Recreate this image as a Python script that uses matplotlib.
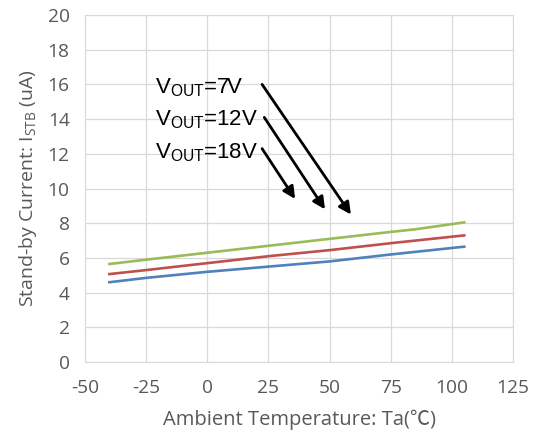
import numpy as np
import matplotlib.pyplot as plt

plt.rcParams['mathtext.fontset'] = 'custom'
plt.rcParams['mathtext.rm'] = 'Liberation Sans'
plt.rcParams['axes.unicode_minus'] = False

# data
temp = [-40, -25, 0, 25, 50, 75, 85, 105]
i_7v = [4.6, 4.85, 5.2, 5.5, 5.8, 6.2, 6.35, 6.65]
i_12v = [5.07, 5.3, 5.7, 6.1, 6.45, 6.85, 7.0, 7.3]
i_18v = [5.65, 5.9, 6.3, 6.7, 7.1, 7.5, 7.65, 8.05]

labels = ['7V', '12V', '18V']
# arrow start / end in data coords
arrows = [((22.4, 16.0), (58.7, 8.5)),
          ((23.3, 14.1), (48.1, 8.8)),
          ((22.4, 12.3), (35.9, 9.4))]
label_y = [15.8, 13.95, 12.05]

fig = plt.figure(figsize=(5.34, 4.41), dpi=100)
ax = fig.add_axes([0.159, 0.179, 0.802, 0.787])

ax.plot(temp, i_7v, color='#4F81BD', lw=1.9)
ax.plot(temp, i_12v, color='#C0504D', lw=1.9)
ax.plot(temp, i_18v, color='#9BBB59', lw=1.9)

ax.set_xlim(-50, 125)
ax.set_ylim(0, 20)
ax.set_xticks(np.arange(-50, 126, 25))
ax.set_yticks(np.arange(0, 21, 2))
ax.grid(True, color='#d9d9d9', lw=0.9)
ax.set_axisbelow(True)
for s in ax.spines.values():
    s.set_color('#d9d9d9')
ax.tick_params(length=0, labelsize=13.8, colors='#595959')
ax.tick_params(axis='x', pad=12)
ax.tick_params(axis='y', pad=11)
for t in ax.get_xticklabels() + ax.get_yticklabels():
    t.set_family('Open Sans')

ax.set_xlabel('Ambient Temperature: Ta(\u2103)', fontsize=14.5, color='#595959',
              family=['Open Sans', 'Noto Sans CJK JP'], labelpad=9)
ax.set_ylabel(r'Stand-by Current: I$_{\mathregular{STB}}$ (uA)', fontsize=14,
              color='#595959', family='Open Sans', labelpad=6)

for lab, y, (st, en) in zip(labels, label_y, arrows):
    ax.text(-21.5, y, r'V$_{\mathrm{OUT}}$=' + lab, fontsize=16,
            family='Liberation Sans', va='center', ha='left', color='black')
    ax.annotate('', xy=en, xytext=st,
                arrowprops=dict(arrowstyle='-|>', color='black', lw=2,
                                mutation_scale=18, shrinkA=0, shrinkB=0))

fig.savefig('out.png', dpi=100)
